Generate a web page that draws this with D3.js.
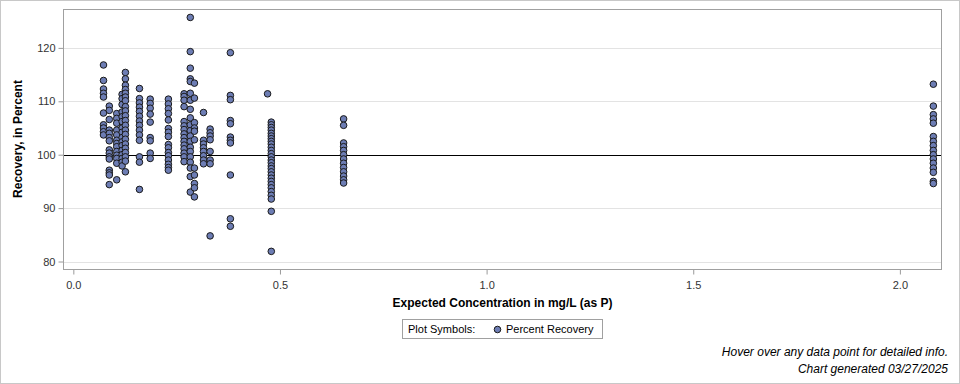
<!DOCTYPE html>
<html>
<head>
<meta charset="utf-8">
<script src="https://cdn.jsdelivr.net/npm/d3@7"></script>
<style>
  body { margin: 0; background: #fff; font-family: "Liberation Sans", Arial, sans-serif; }
  svg { display: block; }
</style>
</head>
<body>
<div id="chart"></div>
<script>
// expected concentration (mg/L as P) for each group of samples
const concentrations = [0.073, 0.087, 0.105, 0.118, 0.126, 0.16, 0.186, 0.23,
  0.268, 0.283, 0.293, 0.315, 0.331, 0.38, 0.47, 0.479, 0.654, 2.081];

// percent recovery for each concentration above
const recoveries = [
  [116.8, 113.9, 112.3, 111.5, 110.8, 107.8, 105.6, 105.0, 104.3, 103.7],
  [109.1, 108.3, 106.6, 104.6, 104.0, 103.2, 102.6, 100.9, 100.3, 99.6, 99.2, 97.1, 96.6, 96.2, 94.4],
  [107.7, 106.8, 105.9, 104.6, 103.7, 102.7, 102.1, 101.5, 100.6, 99.9, 99.3, 98.4, 95.3],
  [111.3, 110.5, 109.4, 108.0, 107.1, 106.2, 105.0, 104.2, 103.2, 102.4, 101.7, 100.8, 100.0, 99.3, 98.6, 97.9],
  [115.4, 114.2, 113.0, 112.2, 111.5, 110.8, 110.1, 109.0, 108.2, 107.3, 106.4, 105.5, 104.6, 103.8, 102.9, 102.0, 101.2, 100.4, 99.6, 98.8, 96.8],
  [112.4, 110.5, 109.7, 108.9, 108.1, 107.2, 106.3, 105.5, 104.6, 103.7, 102.7, 99.6, 98.6, 93.5],
  [110.4, 109.6, 108.7, 107.6, 106.1, 103.2, 102.6, 100.3, 99.3],
  [110.4, 109.5, 108.6, 107.7, 106.5, 104.9, 104.2, 103.4, 101.9, 101.3, 100.4, 99.8, 99.0, 98.2, 97.6, 97.1],
  [111.4, 110.9, 110.2, 109.0, 106.2, 105.4, 104.7, 103.9, 103.2, 102.5, 101.8, 101.1, 100.3, 99.6, 98.7],
  [125.7, 119.3, 116.2, 114.2, 113.7, 111.5, 110.2, 108.5, 106.9, 105.6, 104.5, 103.5, 102.5, 101.4, 100.6, 99.6, 98.6, 97.5, 95.9, 93.0],
  [113.4, 110.6, 106.0, 105.0, 104.4, 102.8, 97.5, 96.2, 94.6, 93.8, 92.1],
  [107.9, 102.7, 102.0, 101.3, 100.6, 99.8, 99.0, 98.3],
  [104.8, 104.1, 103.5, 102.8, 100.6, 99.0, 98.3, 84.8],
  [119.1, 111.1, 110.3, 106.4, 105.8, 103.3, 102.7, 102.2, 96.2, 88.0, 86.6],
  [111.4],
  [106.1, 105.6, 105.1, 104.6, 104.0, 103.5, 103.0, 102.5, 102.0, 101.4, 100.8, 100.2, 99.6, 99.0, 98.5, 97.9, 97.4, 96.8, 96.2, 95.6, 95.0, 94.4, 93.8, 93.1, 92.4, 91.7, 89.4, 81.9],
  [106.7, 105.5, 102.2, 101.5, 100.8, 100.0, 99.2, 98.4, 97.6, 96.8, 96.0, 95.3, 94.7],
  [113.2, 109.1, 107.5, 106.7, 105.9, 103.4, 102.5, 101.7, 100.8, 100.0, 99.2, 98.4, 97.5, 96.7, 95.0, 94.6]
];

const xTicks = [0, 0.5, 1.0, 1.5, 2.0];
const yTicks = [80, 90, 100, 110, 120];
const referenceValue = 100;

const points = [];
concentrations.forEach((c, i) => recoveries[i].forEach(r => points.push({x: c, y: r})));

const width = 960, height = 384;
const plot = {left: 63, right: 941, top: 9, bottom: 269};

const svg = d3.select("#chart").append("svg")
    .attr("width", width)
    .attr("height", height);

// outer border
svg.append("rect")
    .attr("x", 0.5).attr("y", 0.5)
    .attr("width", width - 1).attr("height", height - 1)
    .attr("fill", "#fff")
    .attr("stroke", "#c8c8c8");

const xScale = d3.scaleLinear().domain([-0.025, 2.0995]).range([plot.left, plot.right]);
const yScale = d3.scaleLinear().domain([78.6, 127.28]).range([plot.bottom, plot.top]);

// grid lines
svg.append("g").selectAll("line")
    .data(yTicks)
    .join("line")
    .attr("x1", plot.left).attr("x2", plot.right)
    .attr("y1", d => Math.round(yScale(d)) + 0.5)
    .attr("y2", d => Math.round(yScale(d)) + 0.5)
    .attr("stroke", "#e3e3e3");

// reference line at 100%
svg.append("line")
    .attr("x1", plot.left).attr("x2", plot.right)
    .attr("y1", Math.round(yScale(referenceValue)) + 0.5)
    .attr("y2", Math.round(yScale(referenceValue)) + 0.5)
    .attr("stroke", "#000");

// axes
const xAxis = svg.append("g")
    .attr("transform", `translate(0,${plot.bottom + 0.5})`)
    .call(d3.axisBottom(xScale).tickValues(xTicks).tickFormat(d3.format(".1f")).tickSize(5).tickSizeOuter(0));
const yAxis = svg.append("g")
    .attr("transform", `translate(${plot.left + 0.5},0)`)
    .call(d3.axisLeft(yScale).tickValues(yTicks).tickSize(5).tickSizeOuter(0));

[xAxis, yAxis].forEach(ax => {
    ax.select(".domain").remove();
    ax.selectAll(".tick line").attr("stroke", "#9a9a9a");
    ax.selectAll(".tick text")
        .attr("fill", "#333")
        .style("font-family", "'Liberation Sans', Arial, sans-serif")
        .style("font-size", "11px");
});
xAxis.selectAll(".tick text").attr("dy", "1.05em");

// plot frame
svg.append("rect")
    .attr("x", plot.left + 0.5).attr("y", plot.top + 0.5)
    .attr("width", plot.right - plot.left).attr("height", plot.bottom - plot.top)
    .attr("fill", "none")
    .attr("stroke", "#a0a0a0");

// axis titles
svg.append("text")
    .attr("x", (plot.left + plot.right) / 2 + 0.5)
    .attr("y", 307)
    .attr("text-anchor", "middle")
    .style("font-size", "12px")
    .style("font-weight", "bold")
    .attr("fill", "#000")
    .text("Expected Concentration in mg/L (as P)");

svg.append("text")
    .attr("transform", `translate(22,${(plot.top + plot.bottom) / 2}) rotate(-90)`)
    .attr("text-anchor", "middle")
    .style("font-size", "12px")
    .style("font-weight", "bold")
    .attr("fill", "#000")
    .text("Recovery, in Percent");

// points
svg.append("g").selectAll("circle")
    .data(points)
    .join("circle")
    .attr("cx", d => xScale(d.x))
    .attr("cy", d => yScale(d.y))
    .attr("r", 3.3)
    .attr("fill", "#6d7db4")
    .attr("stroke", "#1a1a1a")
    .attr("stroke-width", 1);

// legend
const legend = svg.append("g").attr("transform", "translate(402,319)");
legend.append("rect")
    .attr("x", 0.5).attr("y", 0.5)
    .attr("width", 200).attr("height", 19)
    .attr("fill", "#fff")
    .attr("stroke", "#a0a0a0");
legend.append("text")
    .attr("x", 6).attr("y", 14)
    .style("font-size", "11px")
    .attr("fill", "#000")
    .text("Plot Symbols:");
legend.append("circle")
    .attr("cx", 95.5).attr("cy", 10.5)
    .attr("r", 3.3)
    .attr("fill", "#6d7db4")
    .attr("stroke", "#1a1a1a");
legend.append("text")
    .attr("x", 104).attr("y", 14)
    .style("font-size", "11px")
    .attr("fill", "#000")
    .text("Percent Recovery");

// footnotes
svg.append("text")
    .attr("x", 948).attr("y", 356)
    .attr("text-anchor", "end")
    .style("font-size", "12px")
    .style("font-style", "italic")
    .attr("fill", "#000")
    .text("Hover over any data point for detailed info.");
svg.append("text")
    .attr("x", 948).attr("y", 373)
    .attr("text-anchor", "end")
    .style("font-size", "12px")
    .style("font-style", "italic")
    .attr("fill", "#000")
    .text("Chart generated 03/27/2025");
</script>
</body>
</html>
